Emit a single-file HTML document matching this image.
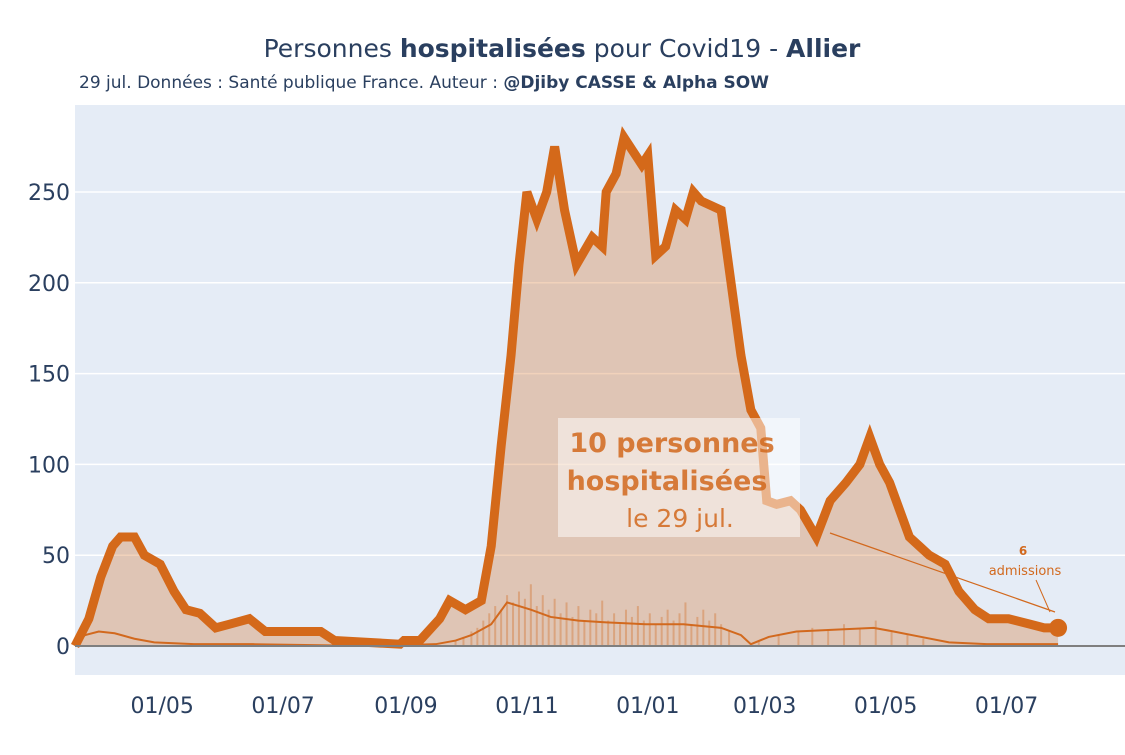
<!DOCTYPE html>
<html><head><meta charset="utf-8"><style>
body{margin:0;background:#fff;font-family:"Liberation Sans","DejaVu Sans",sans-serif}
svg text{font-family:"DejaVu Sans","Liberation Sans",sans-serif}
</style></head><body>
<svg id="c" width="1125" height="750" xmlns="http://www.w3.org/2000/svg">
<rect x="75" y="105" width="1050" height="570" fill="#e5ecf6"/>
<g id="grid"></g><g id="bars"></g><g id="series"></g><g id="axes"></g>
<text x="562" y="57" text-anchor="middle" font-size="25" fill="#2a3f5f">Personnes <tspan font-weight="bold">hospitalisées</tspan> pour Covid19 - <tspan font-weight="bold">Allier</tspan></text>
<text x="79" y="88" font-size="17" fill="#2a3f5f">29 jul. Données : Santé publique France. Auteur : <tspan font-weight="bold">@Djiby CASSE &amp; Alpha SOW</tspan></text>
<rect x="558" y="418" width="242" height="119" fill="#fff" fill-opacity="0.5"/>
<text x="672" y="452" text-anchor="middle" font-size="27" font-weight="bold" fill="#d2691e" opacity="0.85">10 personnes</text>
<text x="667" y="490" text-anchor="middle" font-size="27" font-weight="bold" fill="#d2691e" opacity="0.85">hospitalisées</text>
<text x="680" y="527" text-anchor="middle" font-size="25" fill="#d2691e" opacity="0.85">le 29 jul.</text>
<line x1="830" y1="533" x2="1055" y2="612" stroke="#d2691e" stroke-width="1.2"/>
<text x="1023" y="555" text-anchor="middle" font-size="12" font-weight="bold" fill="#d2691e">6</text>
<text x="1025" y="575" text-anchor="middle" font-size="13" fill="#d2691e">admissions</text>
<line x1="1036" y1="580" x2="1050" y2="612" stroke="#d2691e" stroke-width="1"/>
</svg>
<script>
const hospDays=[0,7,13,19,23,30,35,43,50,56,63,71,78,88,96,103,124,131,164,166,174,184,189,197,205,210,215,220,224,228,233,238,242,247,253,261,266,268,273,277,280,286,289,293,298,303,308,312,316,326,331,336,341,346,349,354,361,366,374,381,389,396,401,406,411,416,421,426,431,439,446,454,461,471,482,489,496];
const hospVals=[0,15,38,55,60,60,50,45,30,20,18,10,12,15,8,8,8,3,1,3,3,15,25,20,25,55,110,160,210,250,235,250,275,240,210,225,220,250,260,280,275,265,270,215,220,240,235,250,245,240,200,160,130,120,80,78,80,75,60,80,90,100,115,100,90,75,60,55,50,45,30,20,15,15,12,10,10];
const admDays=[0,5,12,20,30,40,60,90,150,182,192,200,210,218,230,240,254,268,288,307,326,336,341,350,364,384,403,413,427,441,460,496];
const admVals=[0,6,8,7,4,2,1,1,0,1,3,6,12,24,20,16,14,13,12,12,10,6,1,5,8,9,10,8,5,2,1,1];
const barDays=[192,196,200,203,206,209,212,215,218,221,224,227,230,233,236,239,242,245,248,251,254,257,260,263,266,269,272,275,278,281,284,287,290,293,296,299,302,305,308,311,314,317,320,323,326,330,345,355,365,372,380,388,396,404,412,420,428];
const barVals=[3,5,8,10,14,18,22,20,28,24,30,26,34,22,28,20,26,18,24,16,22,14,20,18,25,14,18,12,20,16,22,14,18,12,16,20,14,18,24,12,16,20,14,18,12,8,3,6,8,10,9,12,10,14,8,6,4];
const yTicks=[0,50,100,150,200,250];
const xTickDays=[44,105,167,228,289,348,409,470];
const xTickLabels=["01/05","01/07","01/09","01/11","01/01","01/03","01/05","01/07"];
const NS="http://www.w3.org/2000/svg";
const X=d=>75+d*1.982, Y=v=>646-v*1.816;
function mk(t,a,p){const e=document.createElementNS(NS,t);for(const k in a)e.setAttribute(k,a[k]);document.getElementById(p).appendChild(e);return e;}
yTicks.forEach(v=>{
 if(v>0){const g=mk('line',{x1:75,x2:1125,y1:Y(v),y2:Y(v),stroke:'#fff','stroke-width':1.5},'grid');
 
 }
 const t=mk('text',{x:70,y:Y(v)+8,'text-anchor':'end','font-size':22,fill:'#2a3f5f'},'axes');t.textContent=v;
 
 
});
xTickDays.forEach((d,i)=>{
 const t=mk('text',{x:X(d),y:713,'text-anchor':'middle','font-size':22,fill:'#2a3f5f'},'axes');t.textContent=xTickLabels[i];
 
 
});
barDays.forEach((d,i)=>{
 const b=mk('rect',{x:X(d)-1,y:Y(barVals[i]),width:2,height:barVals[i]*1.816,fill:'#d2691e',opacity:0.35},'bars');
 
 
});
let pts=hospDays.map((d,i)=>X(d)+','+Y(hospVals[i])).join(' ');
const area=mk('polygon',{points:X(0)+','+Y(0)+' '+pts+' '+X(hospDays[hospDays.length-1])+','+Y(0),fill:'#d2691e','fill-opacity':0.3},'series');


const adm=mk('polyline',{points:admDays.map((d,i)=>X(d)+','+Y(admVals[i])).join(' '),fill:'none',stroke:'#d2691e','stroke-width':2},'series');


const ln=mk('polyline',{points:pts,fill:'none',stroke:'#d4691a','stroke-width':9,'stroke-linejoin':'miter'},'series');


const z=mk('line',{x1:75,x2:1125,y1:Y(0),y2:Y(0),stroke:'#7f7f7f','stroke-width':2},'series');


const li=hospDays.length-1;
const m=mk('circle',{cx:X(hospDays[li]),cy:Y(hospVals[li]),r:9,fill:'#d4691a'},'series');


</script>
</body></html>
